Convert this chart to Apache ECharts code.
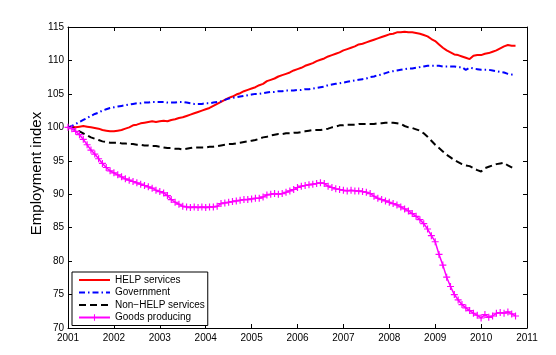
<!DOCTYPE html>
<html>
<head>
<meta charset="utf-8">
<script src="https://cdn.jsdelivr.net/npm/echarts@6/dist/echarts.min.js"></script>
<style>
html,body{margin:0;padding:0;background:#fff;}
#chart{width:556px;height:355px;}
</style>
</head>
<body>
<div id="chart"></div>
<script>
// Monthly data, Jan 2001 .. Oct 2010
const startYear = 2001;
const xTickLabels = ['2001','2002','2003','2004','2005','2006','2007','2008','2009','2010','2011'];
const yTickLabels = ['70','75','80','85','90','95','100','105','110','115'];
const seriesNames = ['HELP services', 'Government', 'Non\u2212HELP services', 'Goods producing'];

const helpServices = [
  100.0,100.1,100.0,100.1,100.2,100.1,100.0,99.9,99.8,99.6,99.5,99.4,
  99.4,99.5,99.6,99.8,100.0,100.3,100.4,100.6,100.7,100.8,100.9,100.8,
  100.9,101.0,100.9,101.1,101.2,101.4,101.5,101.7,101.9,102.1,102.3,102.5,
  102.7,102.9,103.2,103.5,103.8,104.1,104.4,104.6,104.9,105.1,105.4,105.6,
  105.8,106.0,106.3,106.5,106.9,107.1,107.3,107.6,107.8,108.0,108.2,108.5,
  108.7,108.9,109.2,109.4,109.6,109.9,110.1,110.3,110.6,110.8,111.0,111.2,
  111.5,111.7,111.9,112.1,112.4,112.5,112.7,112.9,113.1,113.3,113.5,113.7,
  113.9,114.0,114.2,114.2,114.3,114.2,114.2,114.1,114.0,113.8,113.6,113.2,
  112.9,112.4,111.9,111.5,111.2,110.9,110.8,110.6,110.4,110.2,110.7,110.8,
  110.8,111.0,111.1,111.3,111.5,111.8,112.1,112.3,112.2,112.2
];
const government = [
  100.0,100.2,100.5,100.8,101.1,101.4,101.7,102.0,102.2,102.5,102.7,102.9,
  103.0,103.1,103.2,103.3,103.4,103.5,103.6,103.6,103.7,103.7,103.8,103.8,
  103.8,103.8,103.7,103.7,103.7,103.8,103.8,103.7,103.6,103.5,103.5,103.5,
  103.6,103.6,103.7,103.8,103.9,104.1,104.3,104.4,104.5,104.6,104.7,104.8,
  104.9,105.0,105.0,105.1,105.2,105.3,105.3,105.4,105.4,105.5,105.5,105.5,
  105.6,105.6,105.7,105.7,105.8,105.9,106.0,106.1,106.3,106.4,106.5,106.6,
  106.7,106.8,106.9,107.0,107.1,107.2,107.3,107.5,107.6,107.8,107.9,108.1,
  108.3,108.4,108.5,108.6,108.7,108.8,108.8,108.9,109.0,109.1,109.2,109.2,
  109.2,109.2,109.1,109.1,109.1,109.1,109.0,109.0,108.6,108.9,108.8,108.7,
  108.6,108.6,108.6,108.5,108.4,108.3,108.2,108.0,107.9,107.8
];
const nonHelpServices = [
  100.0,99.9,99.7,99.4,99.1,98.8,98.5,98.3,98.1,97.9,97.8,97.7,
  97.7,97.7,97.6,97.6,97.5,97.5,97.4,97.4,97.3,97.3,97.2,97.2,
  97.1,97.0,96.9,96.9,96.8,96.8,96.7,96.8,96.9,97.0,97.0,97.0,
  97.0,97.1,97.1,97.2,97.3,97.4,97.5,97.5,97.6,97.7,97.8,97.9,
  98.0,98.1,98.3,98.5,98.6,98.8,98.9,99.0,99.0,99.1,99.1,99.2,
  99.2,99.3,99.4,99.5,99.6,99.6,99.6,99.7,99.8,100.0,100.1,100.3,
  100.3,100.4,100.4,100.4,100.5,100.5,100.5,100.5,100.5,100.6,100.6,100.7,
  100.7,100.7,100.6,100.5,100.2,100.0,99.9,99.7,99.5,99.1,98.6,98.0,
  97.4,96.9,96.4,95.9,95.5,95.1,94.8,94.5,94.3,94.2,93.9,93.6,
  93.4,93.9,94.1,94.3,94.5,94.6,94.7,94.3,94.0,93.7
];
const goodsProducing = [
  100.0,99.8,99.4,98.9,98.2,97.4,96.6,96.0,95.3,94.6,94.0,93.5,
  93.2,92.9,92.6,92.3,92.1,91.9,91.7,91.5,91.3,91.1,90.9,90.6,
  90.4,90.2,89.8,89.2,88.8,88.5,88.2,88.1,88.0,88.1,88.0,88.1,
  88.0,88.1,88.1,88.2,88.6,88.7,88.8,88.9,89.0,89.1,89.2,89.2,
  89.3,89.4,89.4,89.6,89.9,90.0,90.1,90.0,90.1,90.3,90.5,90.7,
  91.0,91.2,91.3,91.4,91.5,91.6,91.7,91.6,91.2,91.0,90.8,90.7,
  90.6,90.5,90.6,90.5,90.5,90.4,90.3,90.1,89.7,89.4,89.2,89.0,
  88.8,88.6,88.4,88.1,87.8,87.5,87.1,86.7,86.2,85.6,84.8,83.8,
  82.9,81.0,79.4,77.6,76.2,75.0,74.2,73.5,73.0,72.6,72.2,71.9,
  71.5,72.0,71.6,71.8,72.2,72.3,72.2,72.4,72.1,71.8
];

function toPairs(values) {
  return values.map((v, i) => [startYear + i / 12, v]);
}

const FONT = "'Liberation Sans', Arial, Helvetica, sans-serif";
const plusPath = 'path://M2.5,0h1v2.5h2.5v1h-2.5v2.5h-1v-2.5h-2.5v-1h2.5z';

const chart = echarts.init(document.getElementById('chart'), null, {renderer: 'canvas'});

const xMin = Number(xTickLabels[0]), xMax = Number(xTickLabels[xTickLabels.length - 1]);
const yMin = Number(yTickLabels[0]), yMax = Number(yTickLabels[yTickLabels.length - 1]);

const baseX = {
  type: 'value', min: xMin, max: xMax, interval: 1,
  axisLine: {show: true, onZero: false, lineStyle: {color: '#000', width: 1}},
  axisTick: {show: true, inside: true, length: 4, lineStyle: {color: '#000'}},
  splitLine: {show: false}
};
const baseY = {
  type: 'value', min: yMin, max: yMax, interval: 5,
  axisLine: {show: true, onZero: false, lineStyle: {color: '#000', width: 1}},
  axisTick: {show: true, inside: true, length: 4, lineStyle: {color: '#000'}},
  splitLine: {show: false}
};

const hiddenSymbol = {opacity: 0, borderWidth: 0};

chart.setOption({
  backgroundColor: '#fff',
  animation: false,
  grid: {left: 68, right: 29, top: 27, bottom: 27},
  xAxis: [
    Object.assign({}, baseX, {
      position: 'bottom',
      axisLabel: {show: true, margin: 5, color: '#000', fontSize: 10, fontFamily: FONT,
        formatter: (v) => xTickLabels[Math.round(v - xMin)] || ''}
    }),
    Object.assign({}, baseX, {position: 'top', axisLabel: {show: false}})
  ],
  yAxis: [
    Object.assign({}, baseY, {
      position: 'left',
      name: 'Employment index',
      nameLocation: 'middle',
      nameRotate: 90,
      nameGap: 24,
      nameMoveOverlap: false,
      nameTextStyle: {color: '#000', fontSize: 15, fontFamily: FONT, padding: [0, 0, 0, 8]},
      axisLabel: {show: true, margin: 4, color: '#000', fontSize: 10, fontFamily: FONT,
        formatter: (v) => yTickLabels[Math.round((v - yMin) / 5)] || ''}
    }),
    Object.assign({}, baseY, {position: 'right', axisLabel: {show: false}})
  ],
  legend: {
    show: true,
    orient: 'vertical',
    left: 72,
    top: 272,
    align: 'left',
    backgroundColor: '#fff',
    borderColor: '#000',
    borderWidth: 1,
    borderRadius: 0,
    padding: [3, 3, 3, 6],
    itemWidth: 31,
    itemHeight: 8,
    itemGap: 2.5,
    textStyle: {color: '#000', fontSize: 10, lineHeight: 10, fontFamily: FONT},
    data: [
      {name: seriesNames[0], itemStyle: hiddenSymbol},
      {name: seriesNames[1], itemStyle: hiddenSymbol},
      {name: seriesNames[2], itemStyle: hiddenSymbol},
      {name: seriesNames[3]}
    ]
  },
  series: [
    {
      name: seriesNames[0], type: 'line', data: toPairs(helpServices),
      showSymbol: false, symbol: 'none',
      lineStyle: {color: '#ff0000', width: 2},
      itemStyle: {color: '#ff0000'}
    },
    {
      name: seriesNames[1], type: 'line', data: toPairs(government),
      showSymbol: false, symbol: 'none',
      lineStyle: {color: '#0000ff', width: 2, type: [6, 3, 1.5, 3]},
      itemStyle: {color: '#0000ff'}
    },
    {
      name: seriesNames[2], type: 'line', data: toPairs(nonHelpServices),
      showSymbol: false, symbol: 'none',
      lineStyle: {color: '#000000', width: 2, type: [7, 4]},
      itemStyle: {color: '#000000'}
    },
    {
      name: seriesNames[3], type: 'line', data: toPairs(goodsProducing),
      showSymbol: true, symbol: plusPath, symbolSize: 7,
      lineStyle: {color: '#ff00ff', width: 1.5},
      itemStyle: {color: '#ff00ff'}
    }
  ]
});
</script>
</body>
</html>
